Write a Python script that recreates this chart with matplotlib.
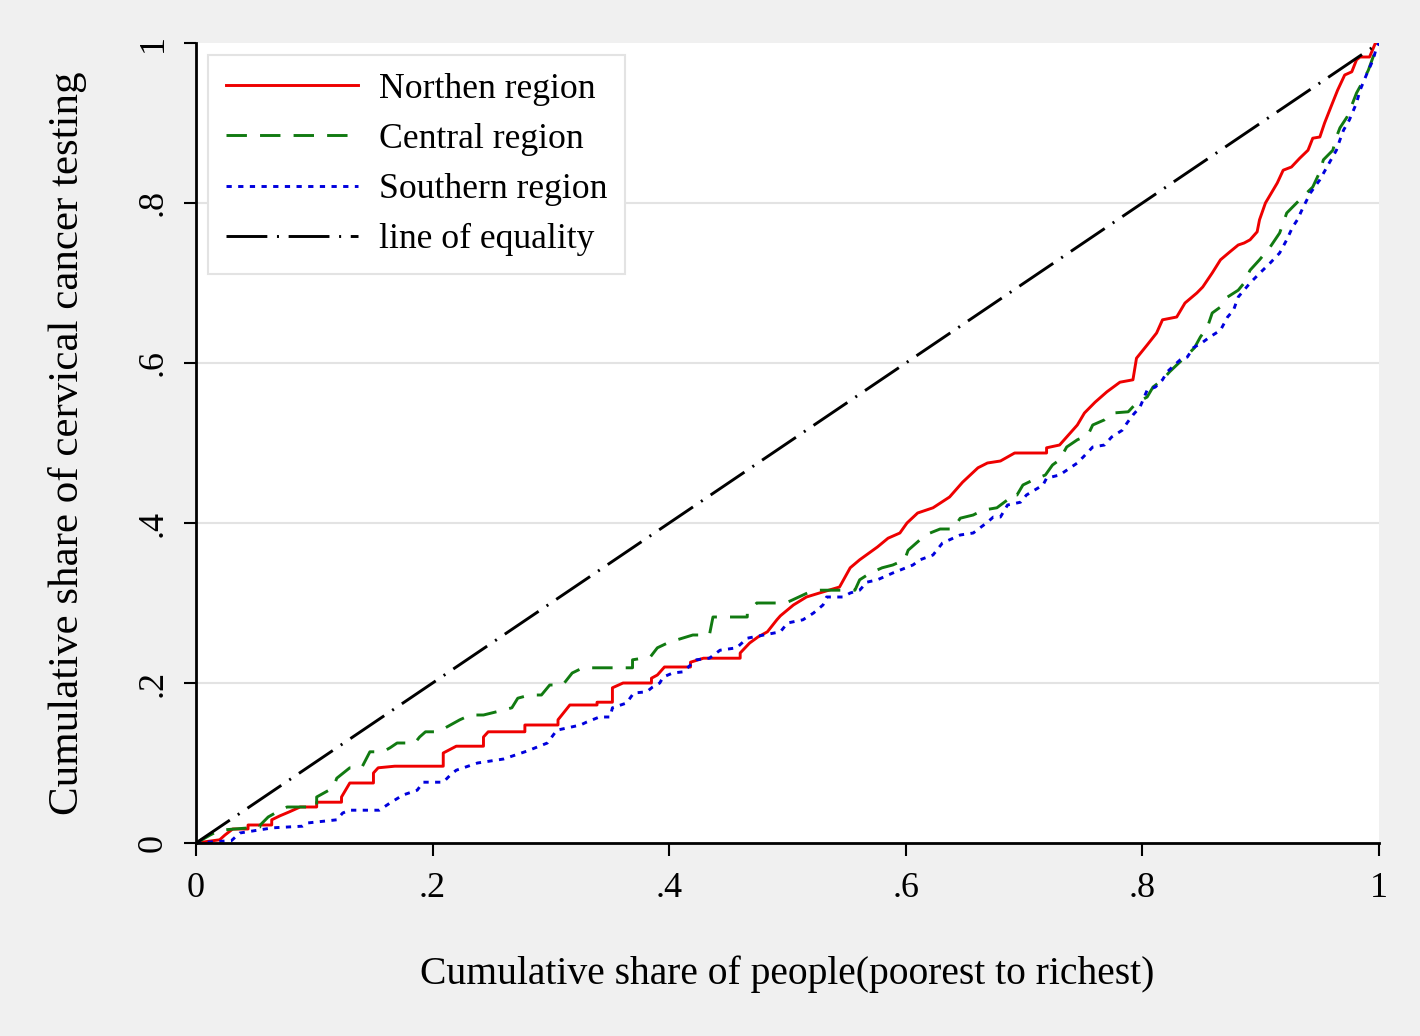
import matplotlib
matplotlib.use("Agg")
import matplotlib.pyplot as plt
import numpy as np

# ---- data ----
north_x = [0, .02, .0245, .031, .044, .044, .064, .064, .071, .079, .088, .102, .102, .123, .123,
           .13, .15, .15, .154, .168, .209, .209, .22, .243, .243, .247, .278, .278, .306, .306,
           .316, .339, .339, .352, .352, .361, .385, .385, .39, .396, .418, .418, .429, .46, .46,
           .468, .475, .483, .491, .494, .505, .516, .527, .544, .553, .561, .576, .585, .595,
           .601, .61, .623, .637, .648, .661, .669, .68, .692, .719, .719, .73, .739, .745, .751,
           .76, .77, .781, .792, .795, .804, .812, .817, .829, .836, .846, .851, .859, .866, .874,
           .881, .886, .891, .897, .899, .904, .908, .914, .919, .926, .933, .94, .944, .95, .954,
           .96, .965, .971, .977, .981, .984, .992, .997, 1.0]
north_y = [0, .004, .01, .0175, .0175, .0225, .0225, .029, .034, .039, .045, .045, .051, .051, .0575,
           .075, .075, .0875, .094, .096, .096, .1125, .121, .121, .1325, .139, .139, .1475, .1475, .154,
           .1725, .1725, .176, .176, .194, .2, .2, .206, .21, .22, .22, .226, .231, .231, .2375,
           .25, .2575, .264, .279, .284, .2975, .3075, .3125, .32, .344, .354, .37, .381, .3875,
           .40, .4125, .419, .4325, .451, .469, .475, .4775, .4875, .4875, .494, .4975, .5125, .5225, .5375,
           .551, .564, .576, .579, .606, .6225, .6375, .654, .6575, .675, .6875, .695, .7125, .729, .739,
           .7475, .75, .754, .764, .779, .80, .81, .825, .841, .845, .856, .866, .881, .8825, .90,
           .9225, .941, .96, .964, .979, .9825, .9825, 1.0, 1.0]

central_x = [0, .005, .012, .02, .054, .054, .061, .067, .077, .077, .102, .102, .116, .119, .13, .14,
             .147, .158, .164, .17, .185, .189, .194, .205, .212, .223, .232, .243, .254, .267, .272,
             .282, .292, .299, .31, .318, .327, .369, .369, .384, .39, .40, .42, .434, .437, .466,
             .466, .474, .491, .50, .503, .519, .527, .557, .561, .57, .58, .589, .599, .602, .612,
             .618, .629, .64, .646, .657, .665, .677, .686, .688, .694, .699, .708, .718, .724, .73,
             .736, .745, .754, .758, .768, .775, .788, .795, .804, .809, .817, .823, .829, .838, .844,
             .849, .855, .859, .866, .872, .881, .886, .891, .899, .908, .916, .922, .933, .944, .95,
             .953, .961, .964, .967, .973, .978, .981, .986, .991, .995, 1.0]
central_y = [0, .004, .01, .016, .02, .022, .0325, .0375, .045, .045, .045, .0575, .069, .081, .094, .094,
             .114, .114, .119, .125, .125, .1325, .139, .139, .145, .154, .16, .16, .164, .169, .181,
             .185, .185, .1975, .1975, .2125, .219, .219, .229, .2325, .244, .251, .26, .26, .2825, .2825,
             .2875, .30, .30, .301, .303, .314, .316, .316, .329, .3375, .344, .3475, .354, .366, .379,
             .386, .3925, .3925, .406, .41, .416, .419, .429, .435, .435, .4475, .454, .46, .4725, .479,
             .495, .504, .51, .5225, .529, .5375, .539, .55, .5575, .57, .579, .589, .5975, .61, .619,
             .6325, .645, .6625, .67, .6825, .691, .70, .716, .729, .745, .7625, .7875, .804, .82, .839,
             .854, .866, .8825, .894, .9075, .926, .9375, .951, .966, .9825, 1.0]

south_x = [0, .03, .037, .065, .09, .094, .119, .124, .13, .155, .164, .175, .187, .192, .209, .215,
           .22, .238, .26, .28, .297, .305, .325, .33, .341, .35, .352, .364, .37, .381, .386, .392,
           .395, .403, .412, .418, .423, .434, .443, .457, .466, .494, .50, .513, .522, .53, .533,
           .547, .553, .561, .567, .576, .589, .606, .612, .623, .631, .646, .657, .669, .674, .68,
           .686, .697, .702, .716, .719, .73, .736, .745, .75, .758, .768, .774, .783, .787, .792,
           .798, .804, .811, .817, .821, .829, .832, .838, .843, .851, .857, .866, .872, .877, .881,
           .891, .899, .908, .916, .922, .927, .931, .936, .942, .95, .956, .964, .967, .97, .975,
           .981, .984, .99, .995, .998, 1.0]
south_y = [0, .003, .0125, .019, .021, .025, .029, .0375, .041, .041, .05, .06, .066, .076, .076, .085,
           .091, .10, .105, .115, .125, .141, .1475, .151, .1575, .1575, .169, .175, .1875, .189, .195, .20,
           .2075, .2125, .214, .2225, .229, .231, .241, .244, .256, .264, .275, .279, .2875, .2975, .3075,
           .3075, .3125, .316, .326, .329, .3375, .3475, .354, .36, .375, .385, .3875, .401, .4075, .4075,
           .4225, .426, .435, .4475, .456, .46, .466, .475, .4825, .495, .4975, .5075, .516, .525, .535,
           .545, .566, .57, .579, .589, .60, .604, .6075, .619, .626, .6325, .641, .6575, .666, .6825,
           .70, .712, .725, .7375, .754, .77, .779, .795, .8125, .829, .845, .866, .879, .891, .904,
           .925, .941, .9625, .979, .995, 1.0]

equal_x = [0, 1]
equal_y = [0, 1]

labels = ["Northen region", "Central region", "Southern region", "line of equality"]
xticks = [0, .2, .4, .6, .8, 1]
xticklabels = ["0", ".2", ".4", ".6", ".8", "1"]
yticks = [0, .2, .4, .6, .8, 1]
yticklabels = ["0", ".2", ".4", ".6", ".8", "1"]

# ---- figure ----
plt.rcParams['font.family'] = ['Liberation Serif', 'DejaVu Serif']
fig = plt.figure(figsize=(14.2, 10.36), dpi=100, facecolor='#f0f0f0')
ax = fig.add_axes([196/1420, 193/1036, (1379-196)/1420, 800/1036])
ax.set_facecolor('white')

for y in [.2, .4, .6, .8]:
    ax.axhline(y, color='#e3e3e3', lw=1.5, zorder=0)

LW = 2.1
ax.plot(north_x, north_y, color='#ee0000', lw=LW, ls='-', label=labels[0])
ax.plot(central_x, central_y, color='#117a11', lw=LW, ls=(0, (7, 4.5)), label=labels[1])
ax.plot(south_x, south_y, color='#0000dd', lw=LW, ls=(0, (1.8, 2.2)), label=labels[2])
ax.plot(equal_x, equal_y, color='black', lw=LW, ls=(0, (14, 3.3, 0.7, 3.3)), label=labels[3])

ax.set_xlim(0, 1)
ax.set_ylim(0, 1)
ax.set_xticks(xticks)
ax.set_xticklabels(xticklabels, fontsize=26)
ax.set_yticks(yticks)
ax.set_yticklabels(yticklabels, fontsize=26, rotation=90, va='center')
ax.tick_params(axis='x', direction='out', length=9, width=1.5, color='black', pad=12)
ax.tick_params(axis='y', direction='out', length=9, width=1.5, color='black', pad=10)

for s in ['top', 'right']:
    ax.spines[s].set_visible(False)
for s in ['left', 'bottom']:
    ax.spines[s].set_linewidth(2.0)
    ax.spines[s].set_color('black')

ax.set_xlabel("Cumulative share of people(poorest to richest)", fontsize=28.5, labelpad=36)
ax.set_ylabel("Cumulative share of cervical cancer testing", fontsize=31, labelpad=36)

leg = ax.legend(loc='upper left', bbox_to_anchor=(0.010, 0.985), borderaxespad=0,
                fontsize=25.7, handlelength=3.7, handletextpad=0.6, labelspacing=0.48,
                fancybox=False, frameon=True, borderpad=0.5)
leg.get_frame().set_edgecolor('#e3e3e3')
leg.get_frame().set_linewidth(1.5)
leg.get_frame().set_facecolor('white')
leg.get_frame().set_alpha(1)

fig.savefig('out.png', dpi=100, facecolor=fig.get_facecolor())
